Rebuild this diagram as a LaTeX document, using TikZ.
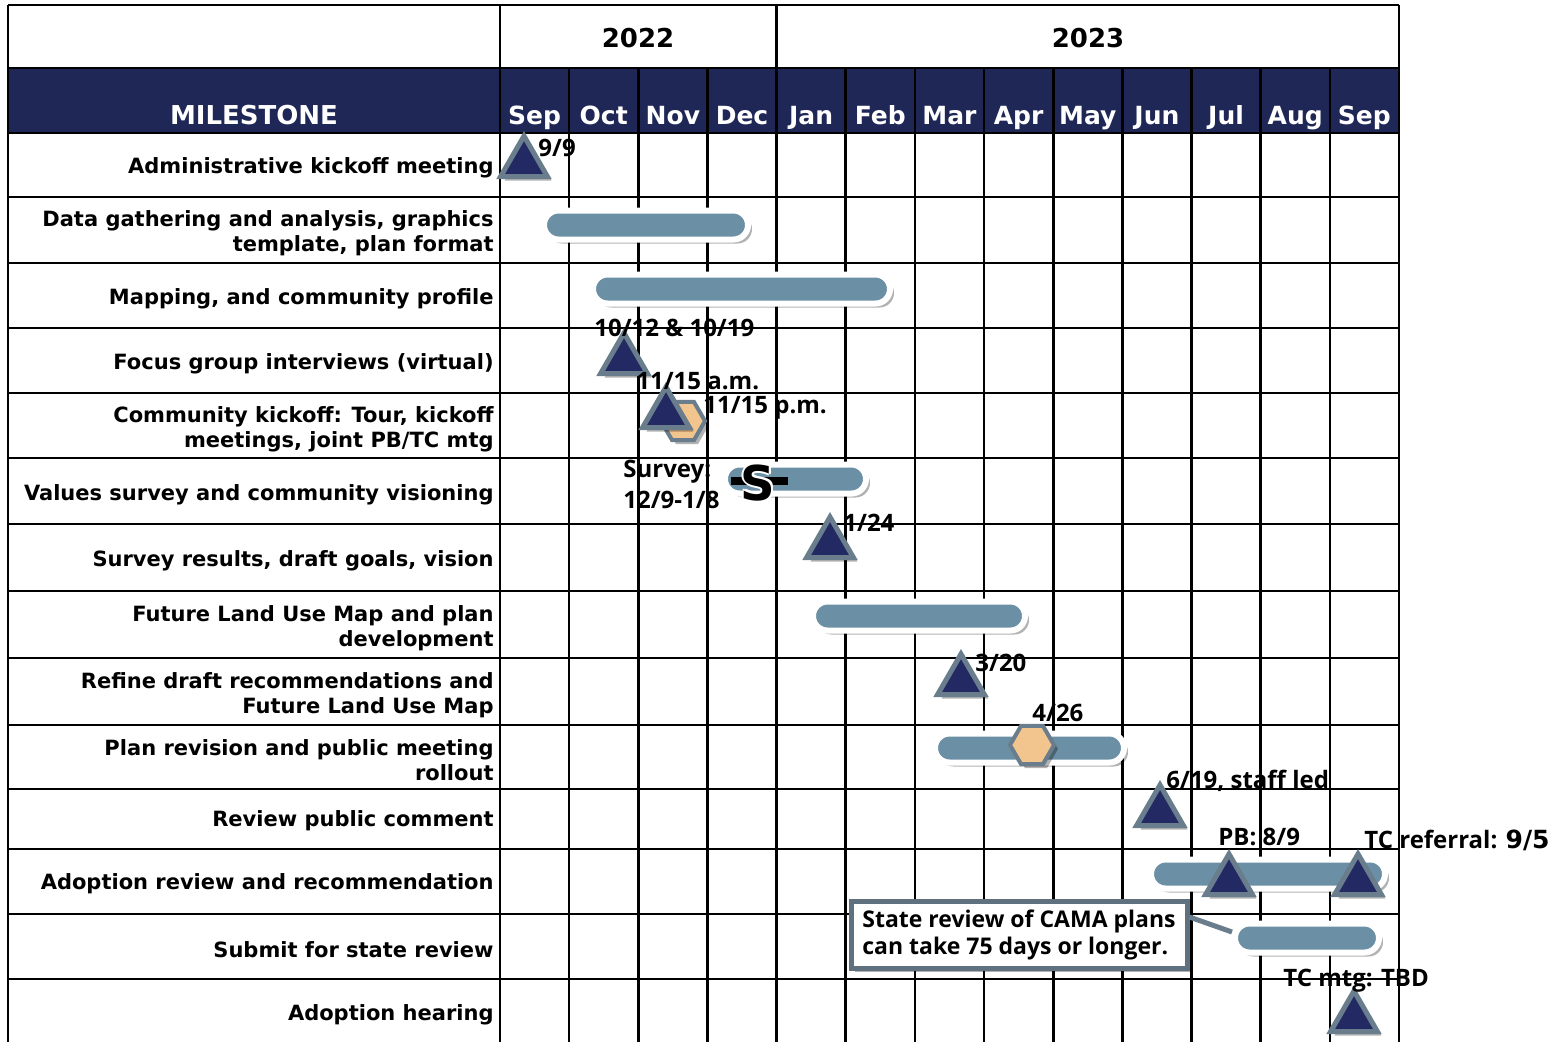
\documentclass[tikz,border=0pt]{standalone}
\usepackage{fontspec}
\setmainfont{DejaVu Sans}
\newfontfamily\notefont{Open Sans}[BoldFont={* Bold}]
\usetikzlibrary{positioning, shapes.geometric, shadows, fit}

\definecolor{navy}{HTML}{1F2756}
\definecolor{marknavy}{HTML}{232A63}
\definecolor{barblue}{HTML}{6B8FA5}
\definecolor{rimgray}{HTML}{6A7D8C}
\definecolor{hexorange}{HTML}{F3C58E}

\tikzset{
  gridline/.style={line width=1.3pt, black},
  head/.style={text=white, anchor=base, font=\bfseries\fontsize{12.5}{14}\selectfont, inner sep=0pt},
  year/.style={anchor=base, font=\bfseries\fontsize{13}{15}\selectfont, inner sep=0pt},
  task/.style={anchor=east, align=right, inner sep=0pt,
    font=\bfseries\fontsize{10.5}{12.5}\selectfont},
  datelabel/.style={anchor=west, inner sep=0pt, font=\notefont\bfseries\fontsize{12}{15.5}\selectfont},
  soft shadow/.style={drop shadow={shadow xshift=2pt, shadow yshift=-2pt, opacity=0.3, fill=black}},
  bar/.style={rectangle, inner sep=0pt, rounded corners=7.25pt, fill=barblue,
    draw=white, line width=3pt, soft shadow},
  milestone/.style={regular polygon, regular polygon sides=3, minimum size=27pt,
    inner sep=0pt, fill=marknavy, draw=rimgray, line width=2.5pt, soft shadow},
  hexmark/.style={regular polygon, regular polygon sides=6, minimum size=22pt,
    inner sep=0pt, fill=hexorange, draw=rimgray, line width=2pt, soft shadow},
  callout/.style={draw=rimgray!90!black, line width=2.5pt, fill=white, align=left,
    minimum width=168pt, minimum height=32pt, inner sep=4pt,
    font=\notefont\bfseries\fontsize{11.5}{13.5}\selectfont, soft shadow},
  leader/.style={rimgray, line width=2.5pt}
}

\begin{document}
\begin{tikzpicture}[x=0.5pt, y=-0.5pt]
\useasboundingbox (0,0) rectangle (1560,1041);
\clip (0,0) rectangle (1560,1041);

% table
\fill[navy] (8,68) rectangle (1399,133);
\foreach \y in {5,68,133,197,263,328,393,458,524,591,658,725,789,849,914,979}
  \draw[gridline] (8,\y) -- (1399,\y);
\foreach \x in {8,500,776.6,1399}
  \draw[gridline] (\x,5) -- (\x,1050);
\foreach \i in {1,...,12}
  \draw[gridline] ({500+69.15*\i},68) -- ({500+69.15*\i},1050);

\node[year] (y22) at (638,47) {2022};
\node[year] (y23) at (1088,47) {2023};
\node[head, font=\bfseries\fontsize{13}{15}\selectfont] (mile) at (254,124) {MILESTONE};
\foreach \m [count=\i] in {Sep,Oct,Nov,Dec,Jan,Feb,Mar,Apr,May,Jun,Jul,Aug,Sep}
  \node[head] (mon\i) at ({500+69.15*(\i-0.5)},124) {\m};

\foreach \y/\t [count=\i] in {
    168/{Administrative kickoff meeting},
    233.5/{Data gathering and analysis, graphics\\template, plan format},
    299/{Mapping, and community profile},
    364/{Focus group interviews (virtual)},
    429.5/{Community kickoff: Tour, kickoff\\meetings, joint PB/TC mtg},
    495/{Values survey and community visioning},
    561/{Survey results, draft goals, vision},
    628.5/{Future Land Use Map and plan\\development},
    695.5/{Refine draft recommendations and\\Future Land Use Map},
    760/{Plan revision and public meeting\\rollout},
    821/{Review public comment},
    884/{Adoption review and recommendation},
    950/{Submit for state review},
    1015/{Adoption hearing}}
  \node[task] (task\i) at (494,\y) {\t};

% bars
\node[bar, fit={(544,210.5) (748,239.5)}] (bar2) {};
\node[bar, fit={(593,274.5) (890,303.5)}] (bar3) {};
\node[bar, fit={(725,464.5) (866,493.5)}] (bar6) {};
\node[bar, fit={(813,601.5) (1025,630.5)}] (bar8) {};
\node[bar, fit={(935,733.5) (1124,762.5)}] (bar10) {};
\node[bar, fit={(1151,859.5) (1385,888.5)}] (bar12) {};
\node[bar, fit={(1235,923.5) (1379,952.5)}] (bar13) {};

% survey mark
\draw[line width=4pt] (731,481) -- (788,481);
\foreach \dx/\dy in {-2/0,2/0,0/-2,0/2,-1.5/-1.5,1.5/1.5,-1.5/1.5,1.5/-1.5}
  \node[text=white, font=\bfseries\fontsize{24}{24}\selectfont, inner sep=0pt]
    at (758+\dx,483+\dy) {S};
\node[font=\bfseries\fontsize{24}{24}\selectfont, inner sep=0pt] (smark) at (758,483) {S};

% milestones
\node[milestone] (m1) at (524,163) {};
\node[milestone] (m4) at (624,360) {};
\node[hexmark] (h5) at (683,421) {};
\node[milestone] (m5) at (666,414) {};
\node[milestone] (m7) at (830,544) {};
\node[milestone] (m9) at (961,681) {};
\node[hexmark] (h10) at (1032,745) {};
\node[milestone] (m11) at (1160,812) {};
\node[milestone] (m12a) at (1229,881) {};
\node[milestone] (m12b) at (1358,881) {};
\node[milestone] (m14) at (1354,1018) {};

% dates
\node[datelabel] at (538,148) {9/9};
\node[datelabel] at (594,328) {10/12 \& 10/19};
\node[datelabel] at (636,381) {11/15 a.m.};
\node[datelabel] at (703,408) {11/15 p.m.};
\node[datelabel, align=left] at (623,484) {Survey:\\12/9-1/8};
\node[datelabel] at (843,523) {1/24};
\node[datelabel] at (975,663) {3/20};
\node[datelabel] at (1032,713) {4/26};
\node[datelabel] at (1166,781) {6/19, staff led};
\node[datelabel] at (1218,837) {PB: 8/9};
\node[datelabel] at (1364,840) {TC referral: {\normalfont\bfseries\fontsize{12.5}{15}\selectfont 9/5}};
\node[datelabel] at (1283,981) {TC mtg: TBD};

% callout
\node[callout] (note) at (1019,935) {State review of CAMA plans\\can take 75 days or longer.};
\draw[leader] ([yshift=9pt]note.east) -- ([yshift=3pt]bar13.west);

\end{tikzpicture}
\end{document}
